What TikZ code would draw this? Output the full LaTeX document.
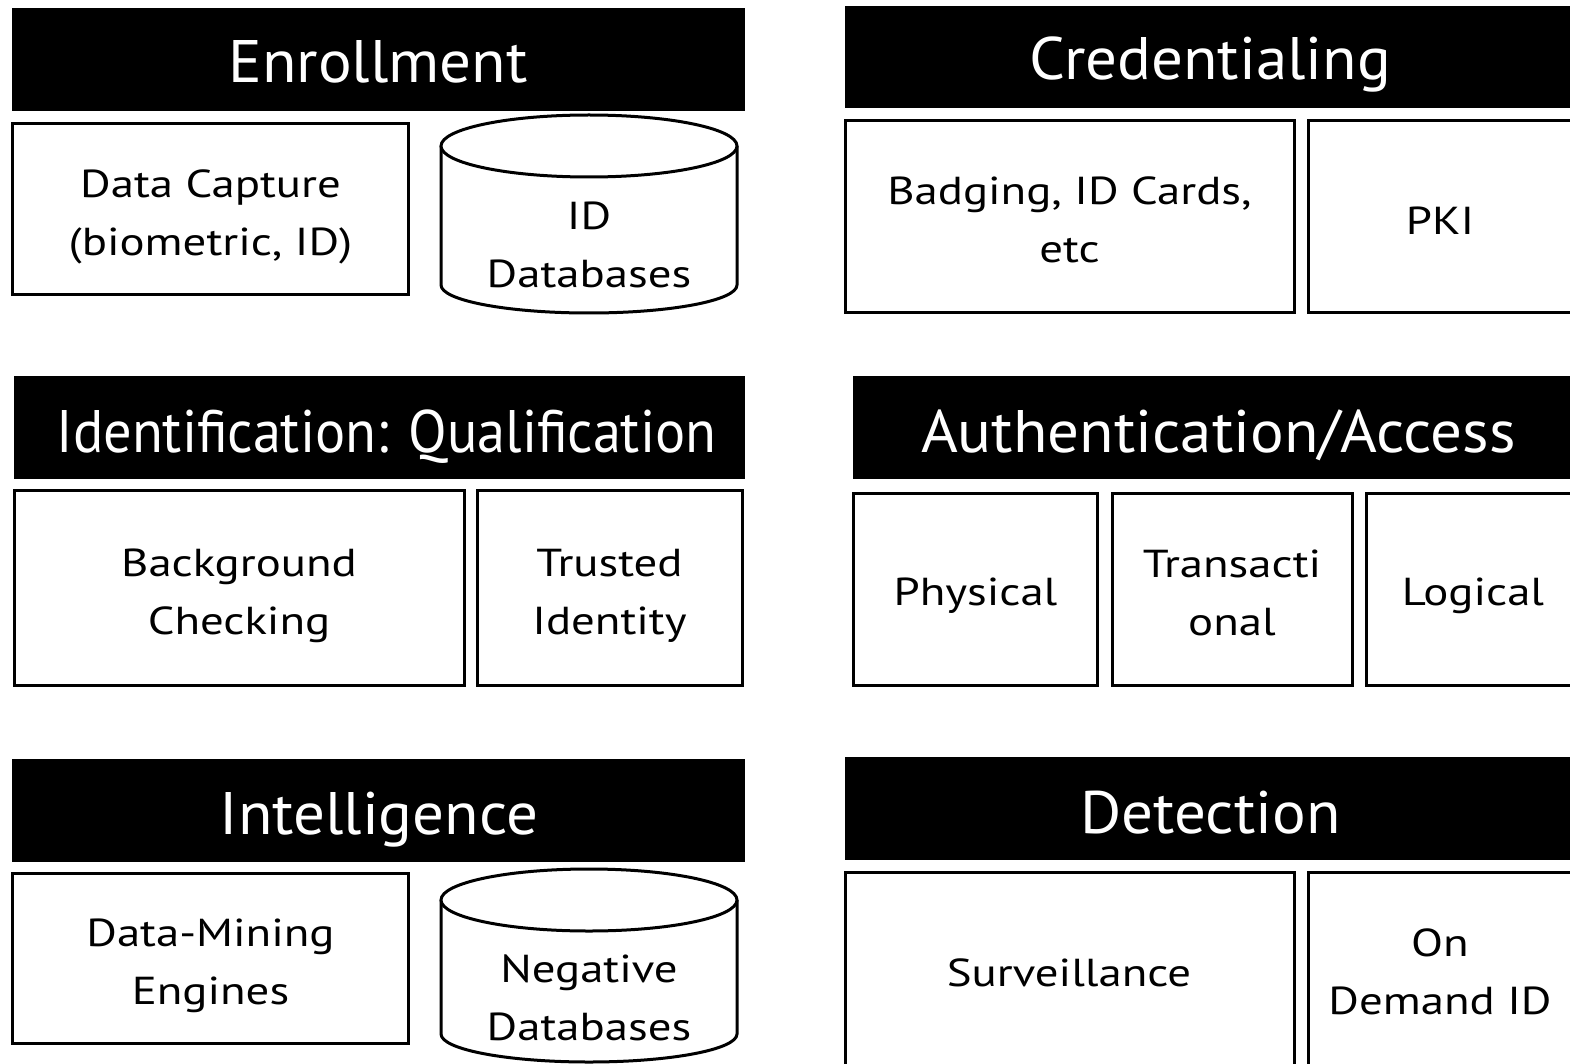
\documentclass[tikz,border=0pt]{standalone}
\usepackage{fontspec}
\setmainfont{PT Sans}
\newfontfamily\hdfont[FakeStretch=1.05]{PT Sans}
\newfontfamily\bdfont[FakeStretch=1.2]{PT Sans}
\newcommand\twolines[2]{\begin{tabular}[b]{@{}c@{}}#1\\#2\end{tabular}}
\begin{document}
\begin{tikzpicture}[x=1pt,y=-1pt,
  bar/.style={fill=black,inner sep=0pt},
  htxt/.style={text=white,inner sep=0pt,font=\hdfont\fontsize{60}{70}\selectfont,text height=42pt,text depth=0pt},
  box/.style={draw=black,line width=3pt,fill=white,inner sep=0pt},
  one/.style={inner sep=0pt,font=\bdfont\fontsize{39}{58}\selectfont,text height=27.3pt,text depth=0pt},
  two/.style={inner sep=0pt,font=\bdfont\fontsize{39}{58}\selectfont,text height=85.3pt,text depth=0pt},
  cyl/.style={draw=black,line width=3pt,fill=white}]
\clip (0,0) rectangle (1570,1064);
\fill[white] (0,0) rectangle (1570,1064);
% Enrollment
\node[bar,minimum width=733,minimum height=103] (enr) at (378.5,59.5) {};
\node[htxt] (enrt) at (378,61.5) {Enrollment};
\node[box,minimum width=396,minimum height=171] (dc) at (210.5,209.5) {};
\node[two] (dct) at (210.5,213) {\twolines{Data Capture}{(biometric, ID)}};
\draw[cyl] (441,146) -- (441,285) arc (180:0:148 and 28) -- (737,146);
\draw[cyl] (589,146) ellipse (148 and 31);
\node[two] (iddb) at (589,245) {\twolines{ID}{Databases}};
% Credentialing
\node[bar,minimum width=730,minimum height=102] (cred) at (1210,57) {};
\node[htxt] (credt) at (1210,58.5) {Credentialing};
\node[box,minimum width=449,minimum height=192] (badge) at (1069.5,217) {};
\node[two] (badget) at (1069.5,219.5) {\twolines{Badging, ID Cards,}{etc}};
\node[box,minimum width=264,minimum height=192] (pki) at (1440,217) {};
\node[one] (pkit) at (1440,220.5) {PKI};
% Identification
\node[bar,minimum width=731,minimum height=103] (ident) at (379.5,427.5) {};
\node[htxt] (identt) at (386.5,431.5) {\scalebox{0.895}[1]{Identification: Qualification}};
\node[box,minimum width=450,minimum height=195] (bg) at (239,587.5) {};
\node[two] (bgt) at (239,592) {\twolines{Background}{Checking}};
\node[box,minimum width=265,minimum height=195] (trust) at (609.5,587.5) {};
\node[two] (trustt) at (609.5,592) {\twolines{Trusted}{Identity}};
% Authentication
\node[bar,minimum width=730,minimum height=103] (auth) at (1218,427.5) {};
\node[htxt] (autht) at (1218.5,431) {Authentication/Access};
\node[box,minimum width=244,minimum height=192] (phys) at (975.5,589) {};
\node[one] (physt) at (975.5,592) {Physical};
\node[box,minimum width=240,minimum height=192] (trans) at (1232,589) {};
\node[two] (transt) at (1232,593) {\twolines{Transacti}{onal}};
\node[box,minimum width=214,minimum height=192] (logi) at (1473,589) {};
\node[one] (logit) at (1473,592) {Logical};
% Intelligence
\node[bar,minimum width=733,minimum height=103] (intel) at (378.5,810.5) {};
\node[htxt] (intelt) at (379,813.5) {Intelligence};
\node[box,minimum width=396,minimum height=170] (dm) at (210.5,958) {};
\node[two] (dmt) at (210.5,962) {\twolines{Data-Mining}{Engines}};
\draw[cyl] (441,900) -- (441,1034) arc (180:0:148 and 28) -- (737,900);
\draw[cyl] (589,900) ellipse (148 and 31);
\node[two] (negdb) at (589,997.5) {\twolines{Negative}{Databases}};
% Detection
\node[bar,minimum width=730,minimum height=103] (det) at (1210,808.5) {};
\node[htxt] (dett) at (1210.5,812) {Detection};
\node[box,minimum width=449,minimum height=198] (surv) at (1069.5,971) {};
\node[one] (survt) at (1069,973) {Surveillance};
\node[box,minimum width=264,minimum height=198] (ondem) at (1440,971) {};
\node[two] (ondemt) at (1440,971.5) {\twolines{On}{Demand ID}};
\end{tikzpicture}
\end{document}
